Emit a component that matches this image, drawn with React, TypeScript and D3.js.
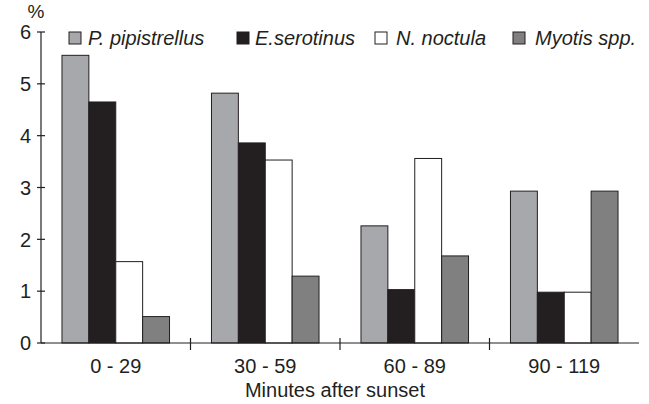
import React from "react";
import * as d3 from "d3";

const categories = ["0 - 29", "30 - 59", "60 - 89", "90 - 119"];
const seriesNames = ["P. pipistrellus", "E.serotinus", "N. noctula", "Myotis spp."];
const pipistrellus = [5.55, 4.82, 2.26, 2.93];
const serotinus = [4.65, 3.86, 1.03, 0.98];
const noctula = [1.57, 3.53, 3.56, 0.98];
const myotis = [0.51, 1.29, 1.68, 2.93];
const yTicks = [0, 1, 2, 3, 4, 5, 6];
const fills = ["#a7a8ab", "#231f20", "#ffffff", "#808080"];

const W = 649;
const H = 404;
const margin = { left: 41, right: 10, top: 32, bottom: 61 };
const FONT = "'Liberation Sans', Arial, Helvetica, sans-serif";
const INK = "#231f20";

export default function App() {
  const series = [pipistrellus, serotinus, noctula, myotis];
  const x0 = d3
    .scaleBand<string>()
    .domain(categories)
    .range([margin.left, W - margin.right])
    .paddingInner(0)
    .paddingOuter(0);
  const x1 = d3
    .scaleBand<string>()
    .domain(seriesNames)
    .range([0, x0.bandwidth()])
    .paddingInner(0)
    .paddingOuter(0.78);
  const y = d3.scaleLinear().domain([0, 6]).range([H - margin.bottom, margin.top]);

  const y0 = y(0);
  const legendItems = [
    { sq: 69, tx: 88 },
    { sq: 237, tx: 255 },
    { sq: 375, tx: 396 },
    { sq: 513, tx: 535 },
  ];
  const catTicks = categories.map((_, i) => margin.left + i * x0.step()).slice(1);

  return (
    <svg
      width={W}
      height={H}
      style={{ position: "absolute", left: 0, top: 0, background: "#fff" }}
      fontFamily={FONT}
    >
      <rect width={W} height={H} fill="#fff" />
      {/* bars */}
      {categories.map((c, ci) => (
        <g key={c} transform={`translate(${x0(c)},0)`}>
          {seriesNames.map((s, si) => {
            const v = series[si][ci];
            return (
              <rect
                key={s}
                x={x1(s)}
                y={y(v)}
                width={x1.bandwidth()}
                height={y0 - y(v)}
                fill={fills[si]}
                stroke={INK}
                strokeWidth={1}
              />
            );
          })}
        </g>
      ))}
      {/* y axis */}
      <line x1={margin.left} x2={margin.left} y1={y(6)} y2={y0} stroke={INK} strokeWidth={1.2} />
      {yTicks.map((t) => (
        <g key={t}>
          <line x1={margin.left - 4} x2={margin.left + 4} y1={y(t)} y2={y(t)} stroke={INK} strokeWidth={1.2} />
          <text x={31} y={y(t)} dy="0.36em" textAnchor="end" fontSize={20} fill={INK}>
            {t}
          </text>
        </g>
      ))}
      <text x={36} y={18} textAnchor="middle" fontSize={19} fill={INK}>
        %
      </text>
      {/* x axis */}
      <line x1={margin.left} x2={W - margin.right} y1={y0} y2={y0} stroke={INK} strokeWidth={1.2} />
      {catTicks.map((tx, i) => (
        <line key={i} x1={tx} x2={tx} y1={y0 - 5} y2={y0 + 7} stroke={INK} strokeWidth={1.2} />
      ))}
      {categories.map((c) => (
        <text
          key={c}
          x={(x0(c) as number) + x0.bandwidth() / 2}
          y={373}
          textAnchor="middle"
          fontSize={20}
          fill={INK}
        >
          {c}
        </text>
      ))}
      <text x={335} y={397} textAnchor="middle" fontSize={20} fill={INK}>
        Minutes after sunset
      </text>
      {/* legend */}
      {seriesNames.map((s, i) => (
        <g key={s}>
          <rect x={legendItems[i].sq} y={32} width={12} height={12} fill={fills[i]} stroke={INK} strokeWidth={1} />
          <text x={legendItems[i].tx} y={45} fontSize={20} fontStyle="italic" fill={INK}>
            {s}
          </text>
        </g>
      ))}
    </svg>
  );
}
